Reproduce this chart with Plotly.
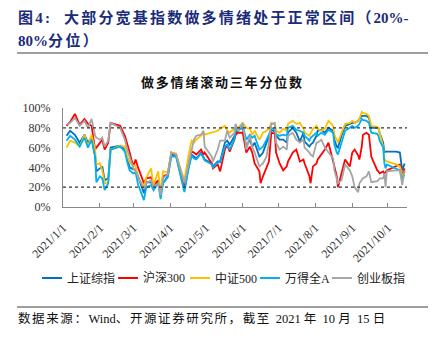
import plotly.graph_objects as go

dates = ["2021-01-04","2021-01-07","2021-01-11","2021-01-15","2021-01-19","2021-01-22","2021-01-25","2021-01-28","2021-01-29",
 "2021-02-01","2021-02-03","2021-02-05","2021-02-08","2021-02-10","2021-02-18","2021-02-22","2021-02-24","2021-02-26",
 "2021-03-01","2021-03-03","2021-03-05","2021-03-08","2021-03-10","2021-03-12","2021-03-16","2021-03-18","2021-03-22","2021-03-24","2021-03-26","2021-03-30",
 "2021-04-02","2021-04-06","2021-04-08","2021-04-09","2021-04-13","2021-04-16","2021-04-19","2021-04-21","2021-04-23","2021-04-27","2021-04-29","2021-04-30",
 "2021-05-06","2021-05-07","2021-05-11","2021-05-13","2021-05-17","2021-05-19","2021-05-21","2021-05-25","2021-05-26","2021-05-28",
 "2021-06-01","2021-06-04","2021-06-07","2021-06-09","2021-06-11","2021-06-15","2021-06-16","2021-06-18","2021-06-21","2021-06-23","2021-06-25","2021-06-28","2021-06-29",
 "2021-07-02","2021-07-05","2021-07-08","2021-07-09","2021-07-13","2021-07-16","2021-07-19","2021-07-22","2021-07-23","2021-07-27","2021-07-28","2021-07-30",
 "2021-08-02","2021-08-03","2021-08-06","2021-08-09","2021-08-12","2021-08-16","2021-08-17","2021-08-19","2021-08-20","2021-08-23","2021-08-26","2021-08-30",
 "2021-09-01","2021-09-03","2021-09-06","2021-09-07","2021-09-09","2021-09-10","2021-09-13","2021-09-15","2021-09-17","2021-09-22","2021-09-23","2021-09-24","2021-09-27","2021-09-28","2021-09-29","2021-09-30",
 "2021-10-08","2021-10-11","2021-10-13","2021-10-15"]

sh_composite = [72,77,73,65,73,65,70,51,36, 39,41,27,29,60,62,58,48,40, 38,38,31,20,14,25,25,20,25,12,24,31,
 53,52,42,39,17,37,53,51,49,55,51,48, 44,41,46,46,65,67,63,72,75,78,
 80,61,68,61,65,51,52,55,65,70,78,76,72, 68,68,65,75,80,75,66,75,66,61,63,65,
 72,77,78,75,80,77,68,61,60,72,82,84, 85,85,87,89,92,92,92,90,80,80,80,75,65,55,56,56, 56,55,37,44]
hs300 = [82,86,94,83,89,84,82,58,60, 65,68,58,65,85,82,72,62,55, 41,48,40,30,24,29,30,22,27,13,31,33,
 55,53,44,39,22,41,56,55,53,58,53,55, 44,39,43,36,58,63,56,68,73,75,
 75,55,61,55,44,36,24,31,39,46,75,74,55, 44,37,41,46,55,58,46,48,44,31,24,41,
 44,48,53,58,65,48,41,31,20,34,48,41, 55,58,52,48,61,73,75,73,51,37,36,34,36,34,35,37, 41,43,32,39]
zz500 = [60,67,65,61,73,61,73,58,43, 44,37,24,25,58,62,61,51,45, 42,41,28,25,20,30,39,22,36,14,36,35,
 55,54,45,41,27,49,67,65,68,72,75,73, 75,75,77,79,82,77,75,79,77,80,
 85,80,79,73,77,68,70,75,77,79,85,83,77, 75,79,77,84,87,84,85,79,75,72,75,79,
 82,79,77,79,87,82,73,67,65,75,84,85, 87,85,87,89,96,95,94,92,82,81,80,75,61,48,47,46, 43,41,32,31]
wind_a = [67,72,68,61,70,60,68,51,25, 31,29,17,24,58,61,56,45,37, 34,35,23,14,7,20,22,17,24,8,24,30,
 51,51,40,37,15,36,52,49,48,54,50,47, 43,40,45,45,61,63,58,68,80,77,
 82,68,73,70,72,58,59,61,68,73,80,78,73, 72,73,72,80,82,78,77,75,72,67,70,72,
 75,72,75,73,78,75,63,55,53,65,77,80, 82,80,82,84,89,88,87,85,75,74,72,67,60,44,39,43, 39,37,27,36]
chinext = [83,85,90,82,87,80,89,72,70, 68,70,61,67,85,80,68,58,50, 39,36,31,24,18,24,27,20,24,12,29,33,
 55,53,44,40,24,41,58,68,72,73,77,61, 51,46,58,67,67,77,70,75,84,77,
 85,58,72,61,55,41,42,44,51,65,84,85,65, 58,61,58,72,75,68,65,68,60,55,53,51,
 65,65,68,60,55,49,37,27,24,27,43,37, 31,20,15,24,27,29,31,36,25,26,27,29,29,34,20,36, 37,37,22,37]

names = ["上证综指", "沪深300", "中证500", "万得全A", "创业板指"]
colors = ["#0070C0", "#FF0000", "#FFC000", "#00B0F0", "#A5A5A5"]
series = [sh_composite, hs300, zz500, wind_a, chinext]

tick_vals = ["2021-01-01","2021-02-01","2021-03-01","2021-04-01","2021-05-01","2021-06-01",
             "2021-07-01","2021-08-01","2021-09-01","2021-10-01"]
tick_text = ["2021/1/1","2021/2/1","2021/3/1","2021/4/1","2021/5/1","2021/6/1",
             "2021/7/1","2021/8/1","2021/9/1","2021/10/1"]
y_ticks = [0, 20, 40, 60, 80, 100]
y_text = ["0%", "20%", "40%", "60%", "80%", "100%"]
band = [20, 80]

W, H = 439, 343
L, R, T, B = 63, 407, 108, 207
SERIF = "Liberation Serif, Times New Roman, Noto Sans CJK SC, serif"

def px(x):
    return (x - L) / (R - L)

def py(y):
    return (B - y) / (B - T)

fig = go.Figure()
for name, color, vals in zip(names, colors, series):
    fig.add_trace(go.Scatter(x=dates, y=vals, mode="lines", name=name,
                             line=dict(color=color, width=1.8), showlegend=False))

shapes = []
for b in band:
    shapes.append(dict(type="line", xref="paper", yref="y", x0=0, x1=1, y0=b, y1=b,
                       line=dict(color="#333333", width=1.2, dash="3px,3px")))
for yline in [53, 307]:
    shapes.append(dict(type="line", xref="paper", yref="paper", x0=px(17), x1=px(428),
                       y0=py(yline), y1=py(yline), line=dict(color="#404040", width=1.2)))

annotations = [
    dict(text='<span style="letter-spacing:2.2px">图4:  大部分宽基指数做多情绪处于正常区间（</span>20%-',
         x=px(16), y=py(17), xref="paper", yref="paper", xanchor="left", yanchor="middle",
         showarrow=False, font=dict(family=SERIF, size=15, color="#1B2C7A", weight="bold")),
    dict(text='80%<span style="letter-spacing:2.4px">分位）</span>',
         x=px(16), y=py(40), xref="paper", yref="paper", xanchor="left", yanchor="middle",
         showarrow=False, font=dict(family=SERIF, size=15, color="#1B2C7A", weight="bold")),
    dict(text='<span style="letter-spacing:1.8px">做多情绪滚动三年分位数</span>',
         x=px(222), y=py(82), xref="paper", yref="paper", xanchor="center", yanchor="middle",
         showarrow=False, font=dict(family=SERIF, size=13, color="#111111", weight="bold")),
    dict(text='<span style="letter-spacing:1.6px">数据来源：</span>Wind<span style="letter-spacing:1.6px">、开源证券研究所，截至 </span>2021 <span style="letter-spacing:1.6px">年 </span>10 <span style="letter-spacing:1.6px">月 </span>15 日',
         x=px(16), y=py(318), xref="paper", yref="paper", xanchor="left", yanchor="middle",
         showarrow=False, font=dict(family=SERIF, size=12.5, color="#111111")),
]

legend_x = [42, 118, 190, 260, 332]
for lx, name, color in zip(legend_x, names, colors):
    shapes.append(dict(type="line", xref="paper", yref="paper", x0=px(lx), x1=px(lx + 20),
                       y0=py(278), y1=py(278), line=dict(color=color, width=2)))
    annotations.append(dict(text=name, x=px(lx + 23), y=py(278), xref="paper", yref="paper",
                            xanchor="left", yanchor="middle", showarrow=False,
                            font=dict(family=SERIF, size=12, color="#222222")))

fig.update_layout(
    width=W, height=H,
    margin=dict(l=L, r=W - R, t=T, b=H - B, pad=0, autoexpand=False),
    paper_bgcolor="white", plot_bgcolor="white",
    showlegend=False,
    shapes=shapes, annotations=annotations,
    xaxis=dict(type="date", range=["2021-01-01", "2021-10-17"], tickvals=tick_vals, ticktext=tick_text,
               tickangle=-45, ticks="inside", ticklen=4, tickcolor="#888888",
               showline=True, linecolor="#888888", linewidth=1, showgrid=False, zeroline=False,
               ticklabelstandoff=8, automargin=False,
               tickfont=dict(family=SERIF, size=12, color="#333333")),
    yaxis=dict(range=[0, 100], tickvals=y_ticks, ticktext=y_text, showgrid=False, zeroline=False,
               showline=True, linecolor="#888888", linewidth=1, automargin=False,
               ticks="outside", ticklen=9, tickcolor="rgba(0,0,0,0)",
               tickfont=dict(family=SERIF, size=12, color="#333333")),
)

fig.write_html("out.html")
